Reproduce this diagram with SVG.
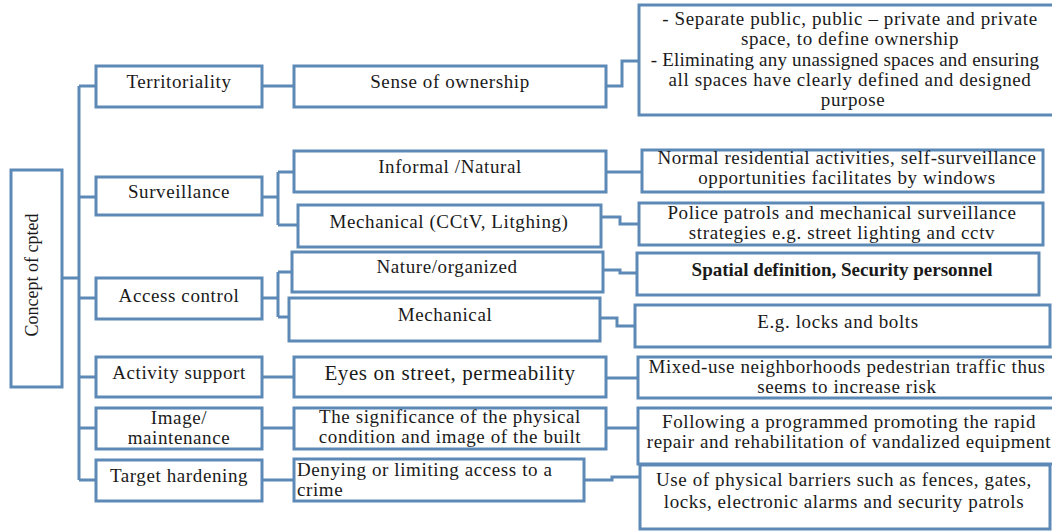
<svg xmlns="http://www.w3.org/2000/svg" width="1052" height="531" viewBox="0 0 1052 531">
<style>
.b{fill:#fff;stroke:#5d89b6;stroke-width:3}
.c{fill:none;stroke:#5d89b6;stroke-width:3}
text{font-family:"Liberation Serif","Times New Roman",serif;fill:#1a1a1a;font-size:19px;letter-spacing:0.6px;text-anchor:middle}
.bold{font-weight:bold;letter-spacing:0}
.l{text-anchor:start}
.big{font-size:21px}
.cp{font-size:18px;letter-spacing:0}
.tight{letter-spacing:0.2px}
</style>
<rect width="1052" height="531" fill="#fff"/>
<g id="connectors">
<path class="c" d="M62 278H79M79 86V480M79 86H96M79 197H96M79 298H96M79 377H96M79 428H96M79 480H96"/>
<path class="c" d="M262 86H294M262 377H294M262 428H294M262 480H294"/>
<path class="c" d="M262 197H278M278 172V225M278 172H294M278 225H298"/>
<path class="c" d="M262 298H278M278 272V317M278 272H292M278 317H289"/>
<path class="c" d="M606 86H622V61H639"/>
<path class="c" d="M606 172H642"/>
<path class="c" d="M600 217H620V224H642"/>
<path class="c" d="M603 270H620V273H637"/>
<path class="c" d="M600 318H617V326H637"/>
<path class="c" d="M605 378H638"/>
<path class="c" d="M606 428H638"/>
<path class="c" d="M584 480H612V477H640"/>
</g>
<g id="concept"><rect class="b" x="11" y="170" width="51" height="217"/><text class="cp" transform="translate(38 275) rotate(-90)">Concept of cpted</text></g>
<g id="territoriality"><rect class="b" x="96" y="66" width="166" height="41"/><text x="179" y="88">Territoriality</text></g>
<g id="surveillance"><rect class="b" x="96" y="177" width="166" height="38"/><text x="179" y="198">Surveillance</text></g>
<g id="access"><rect class="b" x="96" y="278" width="166" height="41"/><text x="179" y="302">Access control</text></g>
<g id="activity"><rect class="b" x="96" y="357" width="166" height="40"/><text x="179" y="379">Activity support</text></g>
<g id="image"><rect class="b" x="96" y="408" width="166" height="41"/><text x="179" y="424">Image/</text><text x="179" y="444">maintenance</text></g>
<g id="target"><rect class="b" x="96" y="460" width="166" height="41"/><text x="179" y="482">Target hardening</text></g>
<g id="sense"><rect class="b" x="294" y="66" width="312" height="41"/><text x="450" y="88">Sense of ownership</text></g>
<g id="informal"><rect class="b" x="294" y="151" width="312" height="41"/><text x="450" y="173">Informal /Natural</text></g>
<g id="mech1"><rect class="b" x="298" y="205" width="303" height="42"/><text x="449" y="228">Mechanical (CCtV, Litghing)</text></g>
<g id="nature"><rect class="b" x="292" y="252" width="311" height="40"/><text x="447" y="273">Nature/organized</text></g>
<g id="mech2"><rect class="b" x="289" y="298" width="311" height="43"/><text x="445" y="321">Mechanical</text></g>
<g id="eyes"><rect class="b" x="294" y="357" width="312" height="40"/><text class="big" x="450" y="380">Eyes on street, permeability</text></g>
<g id="significance"><rect class="b" x="294" y="408" width="312" height="41"/><text x="450" y="423">The significance of the physical</text><text x="450" y="443">condition and image of the built</text></g>
<g id="denying"><rect class="b" x="294" y="459" width="290" height="42"/><text class="l" x="297" y="476">Denying or limiting access to a</text><text class="l" x="297" y="496">crime</text></g>
<g id="ownership-detail"><rect class="b" x="639" y="5" width="420" height="110"/><text x="850" y="25">- Separate public, public – private and private</text><text x="850" y="45">space, to define ownership</text><text class="tight" x="845" y="66">- Eliminating any unassigned spaces and ensuring</text><text x="850" y="86">all spaces have clearly defined and designed</text><text x="853" y="106">purpose</text></g>
<g id="normal"><rect class="b" x="642" y="150" width="401" height="42"/><text x="847" y="164">Normal residential activities, self-surveillance</text><text x="847" y="184">opportunities facilitates by windows</text></g>
<g id="police"><rect class="b" x="639" y="203" width="404" height="42"/><text x="842" y="219">Police patrols and mechanical surveillance</text><text x="842" y="239">strategies e.g. street lighting and cctv</text></g>
<g id="spatial"><rect class="b" x="637" y="253" width="402" height="42"/><text class="bold" x="842" y="276">Spatial definition, Security personnel</text></g>
<g id="locks"><rect class="b" x="635" y="305" width="415" height="42"/><text x="838" y="328">E.g. locks and bolts</text></g>
<g id="mixed"><rect class="b" x="638" y="357" width="420" height="41"/><text x="847" y="373">Mixed-use neighborhoods pedestrian traffic thus</text><text x="847" y="393">seems to increase risk</text></g>
<g id="following"><rect class="b" x="638" y="408" width="420" height="56"/><text x="849" y="428">Following a programmed promoting the rapid</text><text x="849" y="448">repair and rehabilitation of vandalized equipment</text></g>
<g id="physical"><rect class="b" x="640" y="465" width="410" height="64"/><text x="844" y="486">Use of physical barriers such as fences, gates,</text><text x="844" y="508">locks, electronic alarms and security patrols</text></g>
</svg>
